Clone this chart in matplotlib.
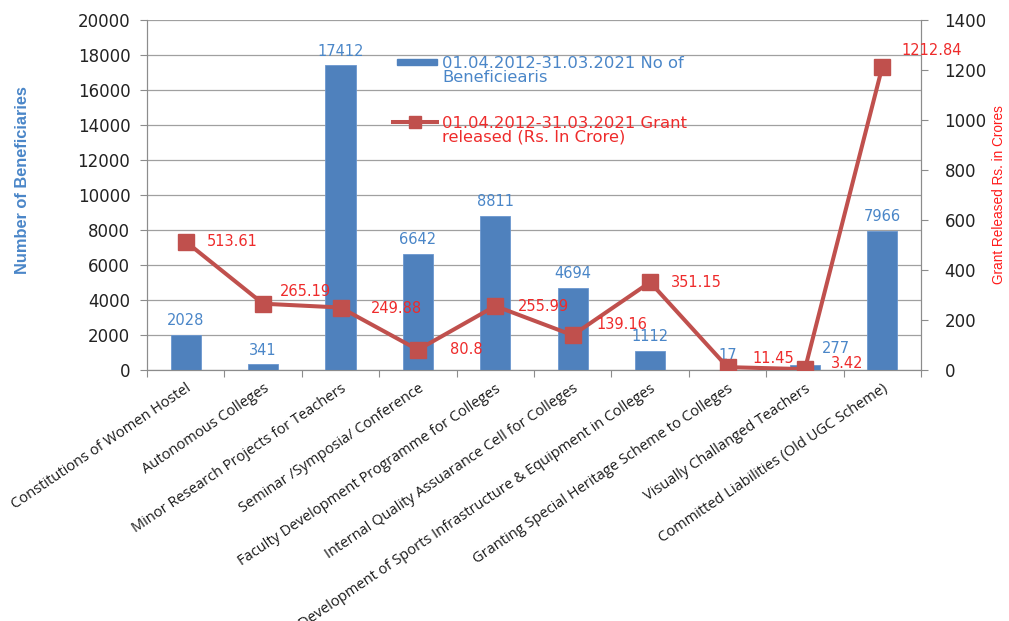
import matplotlib.pyplot as plt
import matplotlib.patches as mpatches
from matplotlib.lines import Line2D
import numpy as np

# data
categories = [
    "Constitutions of Women Hostel",
    "Autonomous Colleges",
    "Minor Research Projects for Teachers",
    "Seminar /Symposia/ Conference",
    "Faculty Development Programme for Colleges",
    "Internal Quality Assuarance Cell for Colleges",
    "Development of Sports Infrastructure & Equipment in Colleges",
    "Granting Special Heritage Scheme to Colleges",
    "Visually Challanged Teachers",
    "Committed Liabilities (Old UGC Scheme)",
]
beneficiaries = [2028, 341, 17412, 6642, 8811, 4694, 1112, 17, 277, 7966]
grant = [513.61, 265.19, 249.88, 80.8, 255.99, 139.16, 351.15, 11.45, 3.42, 1212.84]

bar_name = "01.04.2012-31.03.2021 No of\nBeneficiearis"
line_name = "01.04.2012-31.03.2021 Grant\nreleased (Rs. In Crore)"

# label offsets (points) so they sit like in the original
bar_lbl_off = [(0, 10)] * 8 + [(22, 12), (0, 10)]
line_lbl_off = [(15, 0), (12, 9), (22, -1), (23, 0), (16, 0),
                (17, 8), (15, 0), (18, 6), (19, 4), (14, 12)]

BAR_C = "#4F81BD"
LINE_C = "#C0504D"
BLUE_TXT = "#4a86c8"
RED_TXT = "#ee2b2b"
GRAY = "#8c8c8c"

W, H = 1009, 621
fig = plt.figure(figsize=(W / 100, H / 100), dpi=100)
ax = fig.add_axes([147 / W, 1 - 370 / H, (921 - 147) / W, 350 / H])
ax2 = ax.twinx()

x = np.arange(len(categories))
bars = ax.bar(x, beneficiaries, width=0.39, color=BAR_C, edgecolor="#6b97cf",
              linewidth=0.6, zorder=3)
ax.set_ylim(0, 20000)
ax.set_yticks(np.arange(0, 20001, 2000))
ax.set_xlim(-0.5, len(categories) - 0.5)
ax.yaxis.grid(True, color="#a0a0a0", linewidth=0.9, zorder=0)
ax.set_axisbelow(True)

for xi, v, off in zip(x, beneficiaries, bar_lbl_off):
    ax.annotate(str(v), (xi, v), xytext=off, textcoords="offset points",
                ha="center", va="center", color=BLUE_TXT, fontsize=10.5,
                family="DejaVu Sans", zorder=5)

line, = ax2.plot(x, grant, color=LINE_C, linewidth=2.9, marker="s",
                 markersize=11.5, markerfacecolor=LINE_C, markeredgecolor=LINE_C,
                 zorder=4)
ax2.set_ylim(0, 1400)
ax2.set_yticks(np.arange(0, 1401, 200))

for xi, v, off in zip(x, grant, line_lbl_off):
    ax2.annotate(str(v), (xi, v), xytext=off, textcoords="offset points",
                 ha="left", va="center", color=RED_TXT, fontsize=10.5,
                 family="DejaVu Sans", zorder=6)

# x axis: ticks between categories, labels at centres
ax.set_xticks(np.arange(-0.5, len(categories), 1.0))
ax.set_xticklabels([])
ax.set_xticks(x, minor=True)
ax.set_xticklabels(categories, minor=True, rotation=34, ha="right",
                   rotation_mode="anchor", fontsize=10.5, family="Open Sans",
                   color="#1a1a1a")
ax.tick_params(axis="x", which="minor", length=0, pad=8)
ax.tick_params(axis="x", which="major", length=5, color=GRAY, direction="out")

for a in (ax, ax2):
    for s in a.spines.values():
        s.set_color(GRAY)
    a.spines["top"].set_visible(False)
ax.tick_params(axis="y", length=5, color=GRAY, labelsize=12, pad=7,
               labelcolor="#222222")
ax2.tick_params(axis="y", length=5, color=GRAY, labelsize=12, pad=12,
                labelcolor="#222222")
for lbl in ax.get_yticklabels() + ax2.get_yticklabels():
    lbl.set_family("DejaVu Sans")

ax.set_ylabel("Number of Beneficiaries", color="#4a86c8", fontsize=11.8,
              fontweight="bold", family="Liberation Sans")
ax.yaxis.set_label_coords(-0.151, 0.543)
ax2.set_ylabel("Grant Released Rs. in Crores", color="#ff1a1a", fontsize=9.8,
               family="Liberation Sans")
ax2.yaxis.set_label_coords(1.092, 0.5)

# legend drawn by hand: handles line up with the first text line, like Excel
fig.add_artist(mpatches.Rectangle((397 / W, 1 - 65 / H), 40 / W, 6 / H,
                                  color=BAR_C, transform=fig.transFigure))
fig.add_artist(Line2D([393 / W, 437 / W], [1 - 122 / H] * 2, color=LINE_C,
                      linewidth=2.9, transform=fig.transFigure))
fig.add_artist(Line2D([415 / W], [1 - 122 / H], color=LINE_C, marker="s",
                      markersize=8, transform=fig.transFigure))
# baseline here is the one of the second text line
for txt, col, base in [(bar_name, BLUE_TXT, 82), (line_name, RED_TXT, 142)]:
    fig.text(442 / W, 1 - base / H, txt, color=col, fontsize=11.8,
             family="DejaVu Sans", va="baseline", ha="left", linespacing=0.95)

fig.savefig("out.png", dpi=100)
